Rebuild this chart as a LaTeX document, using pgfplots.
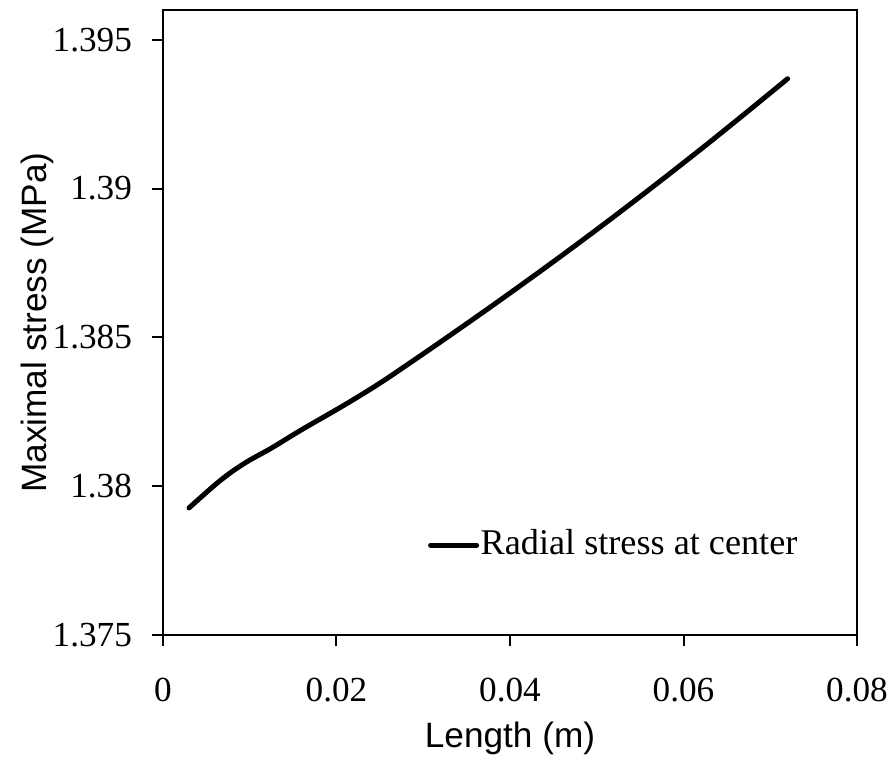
\documentclass[border=0pt]{standalone}
\usepackage{pgfplots}
\pgfplotsset{compat=1.18}
\usepackage{fontspec}
\setmainfont{Liberation Serif}
\newfontfamily\arial{Liberation Sans}
\begin{document}
\fontsize{17.6pt}{21pt}\selectfont
\begin{tikzpicture}
\begin{axis}[
  name=ax,
  scale only axis,
  width=347pt, height=312.5pt,
  xmin=0, xmax=0.08, ymin=1.375, ymax=1.396,
  xtick={0,0.02,0.04,0.06,0.08},
  ytick={1.375,1.38,1.385,1.39,1.395},
  xticklabels={0,0.02,0.04,0.06,0.08},
  yticklabels={1.375,1.38,1.385,1.39,1.395},
  scaled ticks=false,
  tick align=outside,
  major tick length=5.5pt,
  tick style={line width=1pt, black},
  xtick pos=bottom, ytick pos=left,
  axis line style={line width=1.1pt},
  ticklabel style={font=\fontsize{17.6pt}{21pt}\selectfont},
  xticklabel shift=10pt,
  yticklabel shift=4pt,
  xlabel={\arial Length (m)},
  ylabel={\arial Maximal stress (MPa)},
  label style={font=\fontsize{17.6pt}{21pt}\selectfont},
  xlabel style={at={(axis description cs:0.5,0)}, anchor=base, yshift=-56pt},
  ylabel style={at={(axis description cs:0,0.5)}, anchor=base, yshift=58pt},
  legend style={draw=none, fill=none, at={(axis description cs:0.382,0.144)}, anchor=west, inner sep=0pt, outer sep=0pt, nodes={inner sep=0.8pt}, font=\fontsize{18.1pt}{21pt}\selectfont},
  legend cell align=left,
  legend image code/.code={\draw[line width=2.5pt, line cap=round] (0pt,0pt) -- (23pt,0pt);},
]
\addplot[black, line width=2.5pt, line cap=round, smooth, tension=0.6] coordinates {
(0.0030,1.37927)
(0.0066,1.38019)
(0.0094,1.38077)
(0.0125,1.38128)
(0.0160,1.38190)
(0.0219,1.38290)
(0.0273,1.38391)
(0.0389,1.38626)
(0.0504,1.38871)
(0.0619,1.39130)
(0.0720,1.39369)
};
\addlegendentry{Radial stress at center}
\end{axis}
\pgfresetboundingbox
\path (ax.south west) ++(-81.5pt,-62.5pt) rectangle ++(446.5pt,380pt);
\end{tikzpicture}
\end{document}
